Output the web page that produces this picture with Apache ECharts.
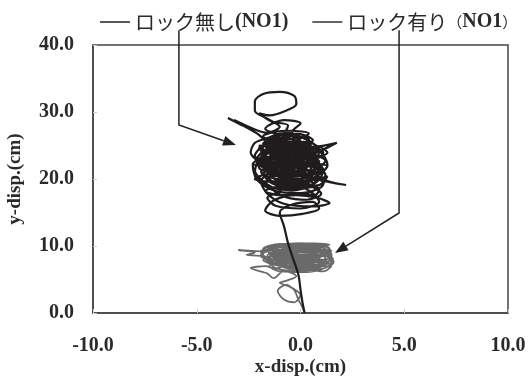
<!DOCTYPE html>
<html><head><meta charset="utf-8">
<script src="https://cdn.jsdelivr.net/npm/echarts/dist/echarts.min.js"></script>
<style>html,body{margin:0;padding:0;background:#fff}#c{width:531px;height:376px}</style>
</head><body><div id="c"></div>
<script>
const seriesNames = ['ロック無し(NO1)', 'ロック有り(NO1)'];
const xTickLabels = ['-10.0', '-5.0', '0.0', '5.0', '10.0'];
const yTickLabels = ['0.0', '10.0', '20.0', '30.0', '40.0'];

// ロック無し (black trajectory) [x, y] in cm
const pathNoLock = [
[0.2,0.0],[0.1,1.5],[0.0,3.5],[-0.1,5.7],[-0.4,8.5],[-0.6,10.4],[-0.8,13.0],[-1.0,15.0],
[-0.4,16.2],[0.6,16.6],[0.9,15.6],[0.1,14.8],[-1.0,14.5],[-1.7,15.3],[-1.3,16.8],[-0.2,17.6],[0.8,17.2],[1.4,16.4],[0.6,15.9],[-0.8,16.3],[-1.6,17.8],
[-1.9,19.6],[-1.2,21.4],[0.0,22.2],[0.9,21.1],[0.6,19.2],[-0.4,18.3],[-1.5,18.9],[-2.2,20.8],[-2.0,23.0],[-1.1,24.6],[0.1,25.1],[1.0,23.9],[1.3,22.1],[0.7,20.3],[-0.3,19.5],[-1.3,20.1],[-1.7,21.9],[-0.9,23.4],[0.3,23.2],[0.8,21.8],[0.1,20.6],[-0.9,20.9],[-1.4,22.6],[-1.9,24.2],[-1.3,25.8],[-0.3,26.4],[0.4,25.6],[0.2,24.0],[-0.7,22.8],[-1.6,23.3],[-2.3,22.1],[-2.1,19.9],[-1.2,18.2],[0.0,17.9],[1.0,18.8],[1.2,20.6],[0.5,22.7],[-0.4,24.6],[-1.5,25.2],[-2.0,26.6],
[-2.6,27.7],[-3.5,29.1],[-2.8,28.0],[-3.2,28.8],[-2.2,27.4],[-1.6,26.9],
[-1.0,27.8],[-1.6,29.0],[-2.2,30.2],[-2.2,31.6],[-1.8,32.7],[-1.0,33.0],[-0.3,32.4],[-0.2,31.2],[-0.7,30.2],[-1.5,29.5],[-2.0,29.8],[-1.4,28.6],[-0.6,28.0],[-0.9,26.6],
[-1.7,27.5],[-0.8,28.8],[0.0,28.3],[-0.4,27.0],
[-0.2,25.4],[0.6,24.8],[1.75,25.4],[1.1,24.4],[0.4,23.6],[-0.5,21.9],[-1.3,21.0],[-2.0,21.7],[-1.8,23.6],[-1.0,24.9],[0.0,24.3],[0.7,22.9],[1.1,21.3],[0.8,19.6],[0.0,18.6],[-0.9,19.0],[-1.6,20.4],[-1.0,22.1],[-0.1,21.5],[0.4,20.1],[-0.3,19.0],[-1.1,19.7],[-0.8,21.3],[0.2,22.9],[0.6,24.3],[-0.2,25.7],[-1.0,26.2],[-1.8,25.0],[-2.2,23.5],[-1.4,22.2],[-0.5,23.1],[0.2,21.0],[0.9,19.9],[2.2,19.1],[1.3,19.7],[0.7,20.7],[-0.2,22.4],[-1.1,23.8],[-1.7,22.7],[-1.1,20.6],[-0.2,19.9],[0.5,21.6],[0.0,23.7],[-0.8,24.3],[-1.4,23.0],[-0.6,21.3],[0.3,20.4],[1.0,21.5],[0.4,23.1],[-0.6,23.9],[-1.6,24.4],[-2.1,22.9],[-1.6,21.2],[-0.7,20.0],[0.4,19.1],[1.0,17.8],[0.3,16.9],[-0.7,17.3],[-1.3,18.4],[-0.6,19.4],[0.5,18.1],[0.9,16.6],[0.0,15.6],[-1.2,16.0],[-1.6,17.2],[-1.0,18.1],[-0.1,20.8],[0.6,23.3],[0.0,24.8],[-0.9,25.4],[-1.3,24.1],[-0.9,22.6],[-0.1,22.0],[0.7,22.4],[0.9,24.4],[0.2,26.0],[-0.6,26.9],[-1.2,26.0],[-0.4,24.9],[0.3,23.9],[-0.3,22.9],[-1.0,21.8],[-1.8,20.8],[-1.4,19.4],[-0.5,18.7],[0.4,19.6],[0.1,21.6],[-0.7,22.3],[-1.2,23.5],
[-1.4,26.3],[-0.6,25.9],[0.2,26.4],[0.5,25.2],[-0.3,24.8],[-1.2,25.1],[-2.0,24.6],[-1.6,23.9],[-0.7,24.2],[0.3,24.6],[1.1,24.0],[0.9,23.2],[0.0,22.9],[-0.9,23.2],[-1.9,23.0],[-2.3,22.3],[-1.5,21.8],[-0.6,22.0],[0.4,22.3],[1.3,21.9],[1.0,21.0],[0.1,20.8],[-0.8,21.0],[-1.7,20.7],[-2.2,20.0],[-1.4,19.6],[-0.5,19.9],[0.5,20.2],[1.1,19.5],[0.6,18.8],[-0.3,18.6],[-1.2,18.8],[-1.7,18.2],[-1.0,17.6],[-0.1,17.9],[0.7,17.6],[0.9,18.4],[0.2,19.3],[-0.7,19.2],[-1.5,19.9],[-1.9,21.1],[-1.1,21.7],[-0.2,21.2],[0.7,21.5],[1.2,22.7],[0.6,23.6],[-0.4,23.5],[-1.3,24.0],[-1.8,25.3],[-1.0,25.8],[-0.1,25.2],[0.6,25.8],[0.0,26.7],[-0.9,26.8],[-1.6,26.1],[-2.2,25.4],[-2.4,24.0],[-1.9,22.6],[-1.0,22.6],[-0.1,23.0],[0.8,23.3],[1.3,23.9],[0.8,24.9],[-0.1,24.2],[-0.9,23.9],[-1.5,22.5],[-1.2,21.0],[-0.4,20.5],[0.5,21.0],[1.0,22.2],[0.3,21.8],[-0.5,21.6],[-1.3,22.2],[-2.0,22.4],[-2.2,21.3],[-1.6,19.2],[-0.8,18.4],[0.1,18.9],[0.9,19.1],[1.3,20.4],[0.7,19.9],[-0.1,19.4],[-1.0,20.3],[-1.5,21.5],[-0.8,22.4],[0.1,22.5],[0.9,22.0],[0.4,20.7],[-0.4,20.4],[-1.2,20.9],[-1.8,22.0],[-1.4,23.4],[-0.6,24.6],[0.2,25.0],[0.8,24.0],[0.2,23.4],[-0.6,22.7],[-1.5,23.8],[-2.0,25.0],[-1.4,24.9],[-0.5,25.3],[0.4,24.1],[0.8,22.7],[0.2,22.0],[-0.6,21.7],
[-1.5,24.8],[-0.8,25.0],[0.1,24.6],[0.7,23.9],[0.3,23.0],[-0.5,22.6],[-1.2,22.9],[-1.7,23.5],[-1.3,24.3],[-0.4,24.0],[0.5,23.4],[0.9,22.6],[0.5,21.9],[-0.3,21.8],[-1.1,21.6],[-1.7,21.3],[-1.3,20.6],[-0.5,20.8],[0.3,21.3],[0.8,20.6],[0.3,19.8],[-0.5,19.6],[-1.3,19.3],[-1.6,20.1],[-0.9,20.5],[-0.1,20.0],[0.6,19.4],[0.2,18.7],[-0.6,18.9],[-1.1,19.5],[-1.4,20.9],[-0.7,21.8],[0.0,21.5],[0.7,21.1],[0.6,22.3],[-0.2,22.6],[-1.0,22.4],[-1.6,22.8],[-1.1,23.6],[-0.2,23.8],[0.6,24.6],[0.1,25.5],[-0.7,25.6],[-1.3,25.0],[-1.7,24.3],[-1.0,23.9],[-0.3,23.3],[0.4,22.6],[0.0,21.9],[-0.8,21.2],[-1.5,21.9],[-1.4,23.0],[-0.6,23.3],[0.2,24.2],[-0.4,24.5],[-1.1,24.5],[-1.8,23.2],[-1.9,22.0],[-1.2,21.9],[-0.4,21.4],[0.4,20.6],[0.9,21.4],[0.3,22.4],[-0.5,22.2],[-1.3,21.4],[-1.6,20.5],[-0.8,19.8],[0.0,19.5],[0.5,20.4],[-0.2,21.0],[-0.9,21.5],[-1.0,22.8],[-0.3,24.2],[0.4,23.8],
[-0.2,26.2],[-1.0,26.6],[-1.6,25.7],[-0.9,25.2],[-0.1,25.9],[0.4,26.8],[-0.5,27.2],[-1.3,27.0],[-1.8,26.4],[-1.2,25.5],[-0.4,25.6],[0.5,25.4],[0.9,24.6],[0.2,24.4],[-0.6,24.0],[-1.4,24.2],[-1.9,23.8],[-1.6,22.4],[-0.8,23.0]
];

// ロック有り (gray trajectory) [x, y] in cm
const pathLock = [
[0.2,0.0],[0.1,0.8],[-0.1,2.0],[-0.3,3.4],[-0.7,4.2],[-1.1,3.3],[-0.8,2.0],[-0.3,1.6],[0.0,2.7],[-0.5,3.9],[-1.0,4.5],[-0.6,4.9],[-0.2,5.5],
[-0.8,6.3],[-1.3,5.2],[-1.6,5.9],[-1.8,6.1],[-2.4,6.7],[-1.7,7.0],[-1.2,6.6],
[-0.6,7.4],[0.4,6.7],[1.2,7.3],[1.5,8.4],[0.9,9.6],[-0.2,10.1],[-1.3,9.8],[-1.9,8.8],[-1.5,7.6],[-0.5,7.0],[0.6,7.6],[1.1,8.9],[0.4,9.9],[-0.7,9.6],[-1.4,8.6],[-0.9,7.7],[0.2,7.4],[0.9,8.2],[0.6,9.2],[-0.4,9.0],[-1.1,8.1],[-0.3,7.9],[0.8,8.6],[1.4,9.6],[0.8,10.3],[-0.3,10.4],[-1.5,10.0],[-2.0,9.2],
[-2.5,9.3],[-3.0,9.4],[-2.2,9.0],[-2.6,8.7],[-1.7,8.4],
[-1.0,7.0],[0.0,6.5],[1.0,6.6],[1.6,7.6],[1.3,8.8],[0.2,9.5],[-0.9,9.2],[-1.6,8.1],[-1.1,7.3],[-0.1,7.0],[0.8,7.9],[0.5,8.9],[-0.5,8.5],[-0.9,9.9],[0.1,10.2],[1.1,9.7],[1.5,8.7],[1.0,7.6],[-0.2,7.6],[-1.3,8.3],[-1.6,9.4],[-0.6,10.1],[0.6,9.9],[1.2,8.0],[0.5,7.0],[-0.5,6.6],[-1.2,7.8],[-0.4,8.4],[0.4,8.0],[1.0,9.0],[0.2,10.0],[-1.0,10.3],[-1.8,9.6],[-1.3,8.9],[-0.2,9.3],[0.7,8.5],[0.1,7.8],[-0.8,8.0],[-1.5,7.0],[-1.0,6.2],[0.3,6.1],[1.3,6.9],[1.57,8.1],[0.9,8.6],[-0.1,8.8],[-1.0,8.6],[-0.5,9.7],[0.4,9.0],[0.0,8.1],
[-1.2,9.9],[-0.4,10.3],[0.5,10.2],[1.2,9.9],[1.5,9.2],[0.7,9.4],[-0.1,9.6],[-0.9,9.5],[-1.7,9.1],[-1.9,8.3],[-1.2,8.5],[-0.4,8.8],[0.4,8.6],[1.2,8.5],[1.5,7.9],[0.8,7.3],[0.0,7.2],[-0.8,7.1],[-1.5,7.5],[-1.2,6.7],[-0.4,6.3],[0.5,6.4],[1.1,6.2],[1.5,7.0],[0.9,7.0],[0.1,6.8],[-0.7,6.9],[-1.3,7.2],[-1.8,7.9],[-1.1,8.8],[-0.3,9.2],[0.6,9.5],[1.3,9.3],[1.0,8.4],[0.2,8.3],[-0.6,8.2],[-1.4,8.0],[-1.9,9.0],[-1.3,9.6],[-0.5,9.9],[0.3,9.7],[1.0,10.0],[1.4,10.2],[0.7,10.4],[-0.1,10.4],[-0.8,10.1],[-1.6,9.8],[-1.1,9.1],[-0.2,8.6],[0.6,8.0],[1.3,7.6],[0.9,6.8],[0.2,6.9],[-0.5,7.4],[-1.2,7.6],[-0.7,8.6],[0.1,9.1],[0.9,9.0],[1.5,8.3],[0.8,7.9],[0.0,7.7],[-0.9,7.6],[-1.6,8.6],[-1.0,9.4],[-0.2,9.9],[0.6,10.0],[1.2,9.5],[0.6,8.8],[-0.3,8.3],[-1.1,8.3],[-1.5,8.9],[-0.6,9.3],[0.3,9.3],[1.1,8.8],[0.4,8.4],[-0.4,7.9],[-1.0,7.3],[-0.2,7.1],[0.7,7.1],[1.4,7.4]
];

// annotation arrows (data coordinates; first point lies above the plot)
const arrowNoLock = [[-5.86, 42.2], [-5.86, 28.06], [-3.11, 25.07]];
const arrowLock = [[4.75, 42.2], [4.75, 14.93], [1.66, 8.96]];

const tickFont = {fontFamily: 'Liberation Serif', fontWeight: 'bold', fontSize: 20, color: '#2a2a2a'};
const titleFont = {fontFamily: 'Liberation Serif', fontWeight: 'bold', fontSize: 19, color: '#2a2a2a'};

const chart = echarts.init(document.getElementById('c'), null, {renderer: 'canvas'});
chart.setOption({
  animation: false,
  backgroundColor: '#fff',
  grid: {left: 93, right: 23, top: 45, bottom: 63, containLabel: false, outerBoundsMode: 'none',
         show: true, borderColor: '#444', borderWidth: 1.5},
  legend: {
    left: 100, top: 12, padding: 0, itemGap: 24, itemWidth: 30, itemHeight: 1.5,
    icon: 'rect',
    data: [
      {name: seriesNames[0], itemStyle: {color: '#222'}},
      {name: seriesNames[1], itemStyle: {color: '#333'}}
    ],
    formatter: function (n) {
      return n === seriesNames[0] ? '{j|ロック無し}{e|(NO1)}' : '{j|ロック有り}{f|（}{e|NO1}{f|）}';
    },
    textStyle: {
      rich: {
        j: {fontFamily: 'Noto Sans CJK JP', fontSize: 20, color: '#2a2a2a', fontWeight: 'normal'},
        f: {fontFamily: 'Noto Sans CJK JP', fontSize: 15, color: '#2a2a2a', fontWeight: 'normal'},
        e: {fontFamily: 'Liberation Serif', fontSize: 20, color: '#2a2a2a', fontWeight: 'bold'}
      }
    }
  },
  xAxis: {
    type: 'value', min: -10, max: 10, interval: 5,
    axisLine: {show: true, onZero: false, lineStyle: {color: '#444', width: 1.5}},
    axisTick: {show: true, inside: true, length: 4, lineStyle: {color: '#ccc'}},
    splitLine: {show: false},
    axisLabel: Object.assign({margin: 23, formatter: function (v) { return xTickLabels[xTickLabels.indexOf(v.toFixed(1))] || v.toFixed(1); }}, tickFont),
    name: 'x-disp.(cm)', nameLocation: 'middle', nameGap: 45, nameMoveOverlap: false,
    nameTextStyle: titleFont
  },
  yAxis: {
    type: 'value', min: 0, max: 40, interval: 10,
    axisLine: {show: true, onZero: false, lineStyle: {color: '#444', width: 1.5}},
    axisTick: {show: true, inside: true, length: 4, lineStyle: {color: '#ccc'}},
    splitLine: {show: false},
    axisLabel: Object.assign({margin: 19, formatter: function (v) { return yTickLabels[yTickLabels.indexOf(v.toFixed(1))] || v.toFixed(1); }}, tickFont),
    name: 'y-disp.(cm)', nameLocation: 'middle', nameGap: 68, nameRotate: 90, nameMoveOverlap: false,
    nameTextStyle: titleFont
  },
  series: [
    {name: seriesNames[0], type: 'line', data: pathNoLock, showSymbol: false, smooth: 0.3,
     lineStyle: {color: '#1e1c1c', width: 2.2}, itemStyle: {color: '#222'}, z: 3},
    {name: seriesNames[1], type: 'line', data: pathLock, showSymbol: false, smooth: 0.3,
     lineStyle: {color: '#6a6a6a', width: 1.8}, itemStyle: {color: '#333'}, z: 2}
  ]
});

function arrowGraphics(path) {
  const px = path.map(p => chart.convertToPixel({gridIndex: 0}, p));
  const tip = px[px.length - 1], prev = px[px.length - 2];
  const dx = tip[0] - prev[0], dy = tip[1] - prev[1];
  const L = Math.sqrt(dx * dx + dy * dy), ux = dx / L, uy = dy / L;
  const hl = 13, hw = 5;
  const base = [tip[0] - ux * hl, tip[1] - uy * hl];
  const linePts = px.slice(0, -1).concat([base]);
  return [
    {type: 'polyline', shape: {points: linePts}, style: {stroke: '#222', lineWidth: 1.5, fill: null}, z: 10},
    {type: 'polygon', shape: {points: [tip, [base[0] - uy * hw, base[1] + ux * hw], [base[0] + uy * hw, base[1] - ux * hw]]}, style: {fill: '#222'}, z: 10}
  ];
}
chart.setOption({graphic: {elements: arrowGraphics(arrowNoLock).concat(arrowGraphics(arrowLock))}});
</script></body></html>
